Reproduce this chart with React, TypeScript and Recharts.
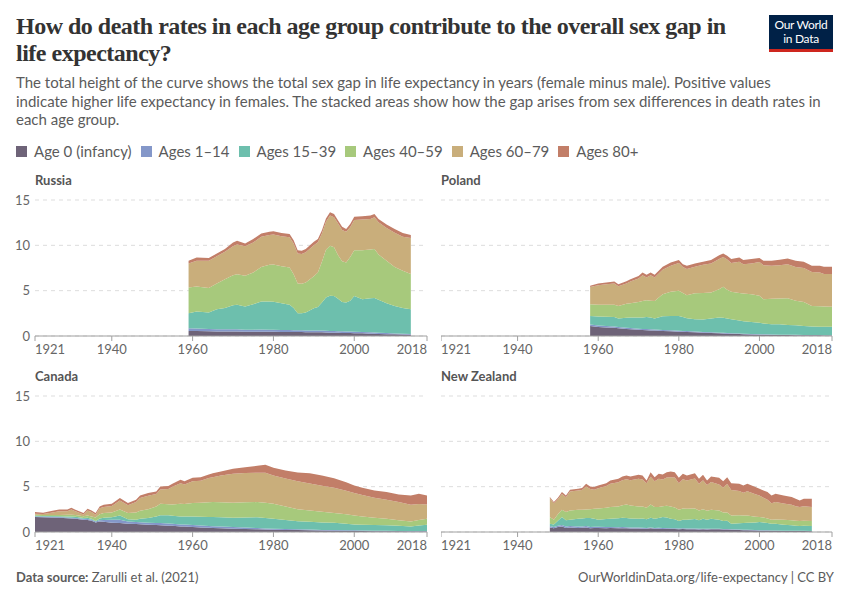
import React from "react";
import { AreaChart, Area, XAxis, YAxis, CartesianGrid } from "recharts";

// ---------- Series metadata ----------
const seriesKeys = ["a0", "a1", "a15", "a40", "a60", "a80"];
const seriesLabels = ["Age 0 (infancy)", "Ages 1–14", "Ages 15–39", "Ages 40–59", "Ages 60–79", "Ages 80+"];
const seriesColors = ["#6e6378", "#8497c9", "#6dbfad", "#a7c97c", "#c9ae7b", "#c27e68"];

const xTicks = [1921, 1940, 1960, 1980, 2000, 2018];
const yTicks = [0, 5, 10, 15];

// ---------- Russia ----------
const russiaYears = [1959, 1961, 1964, 1966, 1968, 1970, 1971, 1973, 1975, 1977, 1979, 1980, 1982, 1984, 1985, 1986, 1987, 1988, 1990, 1991, 1992, 1993, 1994, 1995, 1996, 1997, 1998, 1999, 2000, 2002, 2004, 2005, 2006, 2008, 2010, 2012, 2014];
const russiaAge0 = [0.55, 0.55, 0.52, 0.5, 0.5, 0.5, 0.5, 0.48, 0.48, 0.48, 0.47, 0.46, 0.45, 0.44, 0.44, 0.43, 0.43, 0.42, 0.42, 0.41, 0.4, 0.38, 0.37, 0.36, 0.35, 0.34, 0.33, 0.32, 0.31, 0.29, 0.26, 0.25, 0.23, 0.2, 0.18, 0.16, 0.15];
const russiaAge1 = [0.3, 0.27, 0.26, 0.25, 0.24, 0.24, 0.24, 0.22, 0.22, 0.24, 0.23, 0.22, 0.21, 0.21, 0.2, 0.2, 0.2, 0.2, 0.2, 0.2, 0.2, 0.2, 0.19, 0.19, 0.18, 0.18, 0.17, 0.17, 0.16, 0.15, 0.14, 0.13, 0.13, 0.12, 0.1, 0.09, 0.08];
const russiaAge15 = [1.65, 1.88, 1.82, 2.2, 2.36, 2.66, 2.71, 2.55, 2.8, 3.08, 3.1, 3.1, 2.94, 2.8, 2.46, 1.87, 1.87, 1.98, 2.43, 2.59, 3.1, 3.67, 3.89, 3.85, 3.57, 3.23, 3.2, 3.41, 3.93, 3.61, 3.75, 3.82, 3.64, 3.28, 3.02, 2.85, 2.72];
const russiaAge40 = [2.85, 2.75, 2.7, 2.85, 3.15, 3.3, 3.35, 3.4, 3.5, 3.8, 4.05, 4.1, 4.1, 4.1, 3.7, 3.3, 3.25, 3.3, 3.55, 3.8, 4.5, 5.25, 5.5, 5.4, 4.8, 4.5, 4.4, 4.8, 5.05, 5.4, 5.4, 5.4, 5.0, 4.7, 4.3, 4.1, 3.9];
const russiaAge60 = [2.65, 2.85, 3.0, 3.0, 3.05, 3.2, 3.3, 3.25, 3.3, 3.35, 3.3, 3.32, 3.3, 3.35, 3.4, 3.3, 3.3, 3.35, 3.4, 3.35, 3.1, 3.1, 3.35, 3.3, 3.5, 3.45, 3.4, 3.3, 3.35, 3.4, 3.35, 3.5, 3.55, 3.6, 3.8, 3.75, 3.95];
const russiaAge80 = [0.3, 0.35, 0.3, 0.3, 0.3, 0.4, 0.4, 0.3, 0.4, 0.35, 0.35, 0.35, 0.35, 0.35, 0.35, 0.35, 0.35, 0.35, 0.4, 0.35, 0.35, 0.35, 0.35, 0.35, 0.35, 0.35, 0.3, 0.35, 0.35, 0.35, 0.4, 0.35, 0.35, 0.4, 0.4, 0.4, 0.35];

// ---------- Poland ----------
const polandYears = [1958, 1960, 1962, 1964, 1965, 1967, 1968, 1970, 1971, 1972, 1973, 1974, 1976, 1978, 1980, 1981, 1982, 1984, 1986, 1988, 1990, 1991, 1992, 1993, 1995, 1996, 1998, 2000, 2001, 2003, 2005, 2007, 2009, 2011, 2013, 2015, 2016, 2018];
const polandAge0 = [1.1, 1.0, 0.95, 0.9, 0.85, 0.78, 0.75, 0.68, 0.66, 0.64, 0.62, 0.6, 0.56, 0.52, 0.48, 0.46, 0.44, 0.4, 0.36, 0.33, 0.3, 0.28, 0.26, 0.24, 0.21, 0.19, 0.17, 0.15, 0.14, 0.12, 0.11, 0.1, 0.09, 0.08, 0.07, 0.07, 0.06, 0.06];
const polandAge1 = [0.18, 0.16, 0.15, 0.14, 0.14, 0.13, 0.13, 0.12, 0.12, 0.12, 0.12, 0.12, 0.11, 0.11, 0.1, 0.1, 0.1, 0.1, 0.09, 0.08, 0.07, 0.07, 0.07, 0.07, 0.06, 0.06, 0.05, 0.05, 0.05, 0.05, 0.04, 0.04, 0.04, 0.04, 0.04, 0.03, 0.03, 0.03];
const polandAge15 = [0.92, 0.99, 1.02, 1.06, 0.93, 1.09, 1.15, 1.23, 1.27, 1.34, 1.31, 1.2, 1.5, 1.58, 1.63, 1.54, 1.41, 1.35, 1.37, 1.51, 1.66, 1.65, 1.59, 1.54, 1.43, 1.37, 1.33, 1.27, 1.19, 1.12, 1.14, 1.08, 1.05, 0.98, 0.94, 0.93, 0.94, 0.93];
const polandAge40 = [1.3, 1.3, 1.33, 1.35, 1.4, 1.55, 1.59, 1.73, 1.8, 1.84, 1.85, 1.95, 2.43, 2.66, 2.77, 2.65, 2.55, 2.87, 2.93, 2.88, 3.13, 3.42, 3.18, 3.02, 3.05, 3.06, 3.05, 2.98, 2.67, 2.81, 2.84, 2.94, 2.72, 2.65, 2.27, 2.25, 2.21, 2.2];
const polandAge60 = [1.9, 2.15, 2.25, 2.35, 2.18, 2.25, 2.38, 2.59, 2.85, 2.51, 2.8, 2.58, 2.7, 2.88, 3.07, 2.85, 2.9, 2.93, 3.1, 3.2, 3.34, 3.28, 3.35, 3.18, 3.45, 3.22, 3.4, 3.7, 3.75, 3.65, 3.67, 3.74, 3.7, 3.75, 3.73, 3.72, 3.61, 3.63];
const polandAge80 = [0.15, 0.2, 0.2, 0.2, 0.2, 0.25, 0.27, 0.28, 0.3, 0.3, 0.3, 0.3, 0.33, 0.35, 0.32, 0.32, 0.34, 0.35, 0.35, 0.37, 0.4, 0.4, 0.4, 0.43, 0.46, 0.47, 0.48, 0.44, 0.5, 0.55, 0.6, 0.65, 0.7, 0.68, 0.69, 0.74, 0.78, 0.8];

// ---------- Canada ----------
const canadaYears = [1921, 1923, 1925, 1927, 1929, 1930, 1931, 1933, 1934, 1935, 1936, 1937, 1938, 1940, 1942, 1944, 1946, 1947, 1949, 1951, 1952, 1954, 1955, 1957, 1958, 1960, 1962, 1964, 1965, 1967, 1970, 1973, 1976, 1978, 1980, 1983, 1986, 1989, 1992, 1995, 1998, 2000, 2002, 2005, 2008, 2011, 2014, 2016, 2018];
const canadaAge0 = [1.65, 1.62, 1.6, 1.57, 1.53, 1.5, 1.45, 1.35, 1.33, 1.25, 1.05, 1.15, 1.12, 1.03, 1.0, 0.92, 0.88, 0.86, 0.8, 0.76, 0.74, 0.7, 0.68, 0.62, 0.6, 0.55, 0.5, 0.46, 0.44, 0.41, 0.37, 0.33, 0.29, 0.27, 0.26, 0.23, 0.21, 0.19, 0.16, 0.14, 0.12, 0.11, 0.1, 0.09, 0.08, 0.07, 0.06, 0.06, 0.06];
const canadaAge1 = [0.07, 0.08, 0.08, 0.08, 0.08, 0.08, 0.09, 0.1, 0.1, 0.1, 0.1, 0.15, 0.2, 0.33, 0.35, 0.23, 0.22, 0.22, 0.23, 0.24, 0.24, 0.23, 0.22, 0.22, 0.22, 0.22, 0.21, 0.2, 0.2, 0.19, 0.18, 0.16, 0.14, 0.12, 0.11, 0.09, 0.08, 0.08, 0.07, 0.07, 0.07, 0.07, 0.06, 0.05, 0.05, 0.05, 0.05, 0.05, 0.04];
const canadaAge15 = [0.08, 0.07, 0.08, 0.09, 0.11, 0.14, 0.14, 0.1, 0.15, 0.1, 0.07, 0.2, 0.26, 0.26, 0.48, 0.25, 0.25, 0.37, 0.52, 0.7, 0.87, 0.92, 0.88, 0.88, 0.88, 0.95, 0.97, 1.0, 1.01, 1.02, 1.03, 1.11, 1.2, 1.16, 1.1, 1.0, 0.89, 0.85, 0.83, 0.82, 0.71, 0.66, 0.64, 0.63, 0.62, 0.58, 0.51, 0.61, 0.71];
const canadaAge40 = [0.1, 0.1, 0.12, 0.14, 0.17, 0.18, 0.2, 0.2, 0.24, 0.27, 0.38, 0.45, 0.51, 0.53, 0.66, 0.7, 0.8, 0.9, 0.95, 1.1, 1.27, 1.2, 1.26, 1.4, 1.4, 1.47, 1.54, 1.62, 1.65, 1.66, 1.65, 1.67, 1.67, 1.67, 1.65, 1.48, 1.34, 1.26, 1.16, 1.06, 1.05, 0.99, 0.92, 0.81, 0.7, 0.6, 0.55, 0.61, 0.66];
const canadaAge60 = [0.12, 0.11, 0.24, 0.42, 0.41, 0.59, 0.4, 0.17, 0.56, 0.48, 0.3, 0.67, 0.66, 0.71, 0.99, 0.85, 1.15, 1.4, 1.5, 1.38, 1.58, 1.7, 1.96, 2.27, 2.15, 2.42, 2.43, 2.67, 2.75, 2.94, 3.19, 3.23, 3.23, 3.31, 3.11, 3.1, 3.08, 2.97, 2.88, 2.79, 2.6, 2.46, 2.36, 2.2, 2.1, 2.0, 1.83, 1.77, 1.57];
const canadaAge80 = [0.18, 0.15, 0.19, 0.19, 0.19, 0.19, 0.18, 0.17, 0.19, 0.18, 0.19, 0.2, 0.25, 0.26, 0.26, 0.24, 0.26, 0.28, 0.29, 0.29, 0.32, 0.31, 0.32, 0.37, 0.36, 0.37, 0.4, 0.39, 0.44, 0.45, 0.55, 0.65, 0.77, 0.88, 0.85, 0.88, 0.96, 1.14, 1.13, 1.06, 0.95, 0.84, 0.8, 0.8, 0.85, 0.84, 1.03, 1.12, 0.99];

// ---------- New Zealand ----------
const nzYears = [1948, 1949, 1950, 1951, 1952, 1953, 1955, 1956, 1957, 1958, 1959, 1960, 1962, 1963, 1965, 1966, 1967, 1968, 1970, 1971, 1972, 1973, 1974, 1975, 1976, 1977, 1978, 1979, 1980, 1981, 1982, 1984, 1985, 1986, 1987, 1988, 1990, 1991, 1992, 1993, 1995, 1996, 1997, 1999, 2000, 2001, 2002, 2003, 2004, 2006, 2008, 2009, 2010, 2011, 2013];
const nzAge0 = [0.5, 0.4, 0.55, 0.6, 0.45, 0.5, 0.45, 0.48, 0.5, 0.42, 0.45, 0.45, 0.42, 0.44, 0.4, 0.42, 0.4, 0.38, 0.38, 0.36, 0.35, 0.4, 0.35, 0.36, 0.34, 0.35, 0.33, 0.32, 0.3, 0.32, 0.3, 0.31, 0.28, 0.3, 0.28, 0.3, 0.3, 0.28, 0.28, 0.25, 0.22, 0.2, 0.2, 0.17, 0.15, 0.15, 0.14, 0.13, 0.13, 0.12, 0.11, 0.1, 0.1, 0.1, 0.09];
const nzAge1 = [0.16, 0.14, 0.15, 0.18, 0.15, 0.15, 0.15, 0.14, 0.15, 0.13, 0.14, 0.13, 0.12, 0.12, 0.12, 0.12, 0.12, 0.11, 0.11, 0.11, 0.1, 0.11, 0.1, 0.1, 0.1, 0.1, 0.09, 0.09, 0.08, 0.08, 0.08, 0.08, 0.07, 0.07, 0.07, 0.07, 0.06, 0.06, 0.06, 0.05, 0.05, 0.05, 0.05, 0.04, 0.04, 0.04, 0.04, 0.04, 0.04, 0.03, 0.03, 0.03, 0.03, 0.03, 0.03];
const nzAge15 = [0.26, 0.3, 0.55, 0.87, 0.7, 0.71, 0.87, 0.88, 0.9, 0.99, 0.86, 0.78, 0.9, 0.91, 1.0, 1.04, 1.03, 1.01, 0.98, 1.03, 0.95, 1.07, 1.0, 1.09, 1.21, 1.15, 1.05, 1.0, 0.83, 0.95, 0.98, 1.05, 0.95, 1.1, 1.0, 1.1, 1.0, 0.86, 0.9, 0.62, 0.7, 0.74, 0.78, 0.85, 0.91, 0.85, 0.8, 0.75, 0.73, 0.66, 0.6, 0.56, 0.53, 0.55, 0.54];
const nzAge40 = [0.73, 0.52, 0.7, 0.81, 0.9, 1.02, 0.99, 0.95, 0.94, 0.98, 1.12, 1.24, 1.24, 1.28, 1.3, 1.38, 1.49, 1.42, 1.35, 1.3, 1.28, 1.46, 1.3, 1.2, 1.2, 1.3, 1.35, 1.29, 1.25, 1.25, 1.2, 1.16, 1.08, 1.05, 1.0, 0.99, 1.02, 0.95, 0.9, 0.91, 0.88, 0.84, 0.8, 0.62, 0.55, 0.55, 0.52, 0.44, 0.48, 0.55, 0.55, 0.55, 0.55, 0.55, 0.55];
const nzAge60 = [2.09, 1.8, 1.65, 1.74, 1.63, 2.1, 2.11, 2.17, 2.53, 2.22, 2.08, 2.23, 2.38, 2.58, 2.68, 2.76, 2.79, 2.78, 3.05, 2.98, 2.71, 3.06, 2.85, 3.12, 2.94, 3.1, 3.23, 3.3, 2.93, 3.22, 3.12, 3.29, 2.94, 3.19, 2.83, 3.06, 2.86, 2.76, 3.16, 2.81, 2.66, 2.5, 2.67, 2.47, 2.38, 2.19, 2.05, 1.82, 1.94, 1.79, 1.71, 1.59, 1.54, 1.6, 1.54];
const nzAge80 = [0.11, 0.14, 0.18, 0.2, 0.2, 0.18, 0.2, 0.22, 0.3, 0.28, 0.3, 0.3, 0.33, 0.35, 0.37, 0.4, 0.4, 0.42, 0.44, 0.45, 0.29, 0.5, 0.45, 0.55, 0.55, 0.6, 0.62, 0.6, 0.59, 0.6, 0.55, 0.6, 0.55, 0.6, 0.5, 0.6, 0.74, 0.7, 0.75, 0.75, 0.81, 0.8, 0.82, 0.8, 0.74, 0.8, 0.85, 0.85, 0.9, 0.88, 0.85, 0.84, 0.73, 0.84, 0.92];

type Row = { [k: string]: number };

function buildRows(years: number[], cols: number[][]): Row[] {
  return years.map((year, i) => {
    const r: Row = { year };
    seriesKeys.forEach((k, j) => {
      r[k] = cols[j][i];
    });
    return r;
  });
}

const panels = [
  { name: "Russia", rows: buildRows(russiaYears, [russiaAge0, russiaAge1, russiaAge15, russiaAge40, russiaAge60, russiaAge80]), left: 0, top: 190, showY: true },
  { name: "Poland", rows: buildRows(polandYears, [polandAge0, polandAge1, polandAge15, polandAge40, polandAge60, polandAge80]), left: 441, top: 190, showY: false },
  { name: "Canada", rows: buildRows(canadaYears, [canadaAge0, canadaAge1, canadaAge15, canadaAge40, canadaAge60, canadaAge80]), left: 0, top: 386, showY: true },
  { name: "New Zealand", rows: buildRows(nzYears, [nzAge0, nzAge1, nzAge15, nzAge40, nzAge60, nzAge80]), left: 441, top: 386, showY: false },
];

const FONT = "Lato, 'Noto Sans', sans-serif";
const textGray = "#5b5b5b";

const XTick = (props: any) => {
  const { x, y, payload } = props;
  const v = payload.value;
  const anchor = v === xTicks[0] ? "start" : v === xTicks[xTicks.length - 1] ? "end" : "middle";
  return (
    <text x={x} y={y} dy={11} textAnchor={anchor} fill="#666" fontSize={13} fontFamily={FONT}>
      {v}
    </text>
  );
};

function Panel({ p }: { p: (typeof panels)[number] }) {
  const width = p.showY ? 432 : 396;
  return (
    <div style={{ position: "absolute", left: p.left, top: p.top }}>
      <AreaChart width={width} height={172} data={p.rows} margin={{ top: 10, right: 5, bottom: 0, left: 0 }}>
        <CartesianGrid vertical={false} stroke="#dddddd" strokeDasharray="4 4" />
        <XAxis
          type="number"
          dataKey="year"
          domain={[1921, 2018]}
          ticks={xTicks}
          interval={0}
          height={26}
          tick={<XTick />}
          tickSize={5}
          tickMargin={2}
          axisLine={{ stroke: "#a0a0a0" }}
          tickLine={{ stroke: "#a0a0a0" }}
          allowDataOverflow
        />
        <YAxis
          type="number"
          domain={[0, 15]}
          ticks={yTicks}
          interval={0}
          width={35}
          hide={!p.showY}
          axisLine={false}
          tickLine={false}
          tickSize={3}
          tickMargin={2}
          tick={{ fill: "#666", fontSize: 13, fontFamily: FONT }}
        />
        {seriesKeys.map((k, i) => (
          <Area
            key={k}
            type="linear"
            dataKey={k}
            stackId="s"
            stroke="none"
            fill={seriesColors[i]}
            fillOpacity={1}
            isAnimationActive={false}
            dot={false}
            activeDot={false}
          />
        ))}
      </AreaChart>
      <div
        style={{
          position: "absolute",
          left: p.showY ? 35 : 0,
          top: -18,
          fontFamily: FONT,
          fontWeight: 700,
          fontSize: 13,
          color: "#555",
          whiteSpace: "nowrap",
        }}
      >
        {p.name}
      </div>
    </div>
  );
}

export default function App() {
  return (
    <div style={{ position: "relative", width: 850, height: 600, background: "#fff", overflow: "hidden", fontFamily: FONT }}>
      <style>{"body{margin:0}"}</style>
      <div
        style={{
          position: "absolute",
          left: 16,
          top: 13,
          width: 740,
          fontFamily: "'Liberation Serif', 'DejaVu Serif', serif",
          fontSize: 24,
          lineHeight: "27px",
          color: "#333",
          fontWeight: 700,
          letterSpacing: -0.5,
        }}
      >
        How do death rates in each age group contribute to the overall sex gap in life expectancy?
      </div>
      <div
        style={{
          position: "absolute",
          left: 769,
          top: 15,
          width: 64,
          height: 37,
          background: "#002147",
          borderBottom: "3px solid #ce261e",
          boxSizing: "border-box",
          color: "#fff",
          fontFamily: FONT,
          fontSize: 12,
          lineHeight: "14px",
          textAlign: "center",
          paddingTop: 3,
          letterSpacing: -0.3,
        }}
      >
        <div>Our World</div>
        <div>in Data</div>
      </div>
      <div
        style={{
          position: "absolute",
          left: 16,
          top: 73,
          width: 808,
          fontFamily: FONT,
          fontSize: 15,
          lineHeight: "18.5px",
          color: textGray,
        }}
      >
        The total height of the curve shows the total sex gap in life expectancy in years (female minus male). Positive values indicate higher life expectancy in females. The stacked areas show how the gap arises from sex differences in death rates in each age group.
      </div>
      <div style={{ position: "absolute", left: 16, top: 142, display: "flex", alignItems: "center", fontFamily: FONT, fontSize: 15, color: textGray, whiteSpace: "nowrap" }}>
        {seriesLabels.map((l, i) => (
          <div key={l} style={{ display: "flex", alignItems: "center", marginRight: 9 }}>
            <span style={{ display: "inline-block", width: 11, height: 11, background: seriesColors[i], marginRight: 7 }} />
            <span>{l}</span>
          </div>
        ))}
      </div>
      {panels.map((p) => (
        <Panel key={p.name} p={p} />
      ))}
      <div style={{ position: "absolute", left: 16, top: 569, fontFamily: FONT, fontSize: 13, color: textGray }}>
        <b>Data source:</b> Zarulli et al. (2021)
      </div>
      <div style={{ position: "absolute", right: 16, top: 569, fontFamily: FONT, fontSize: 13, color: textGray }}>
        OurWorldinData.org/life-expectancy | CC BY
      </div>
    </div>
  );
}
